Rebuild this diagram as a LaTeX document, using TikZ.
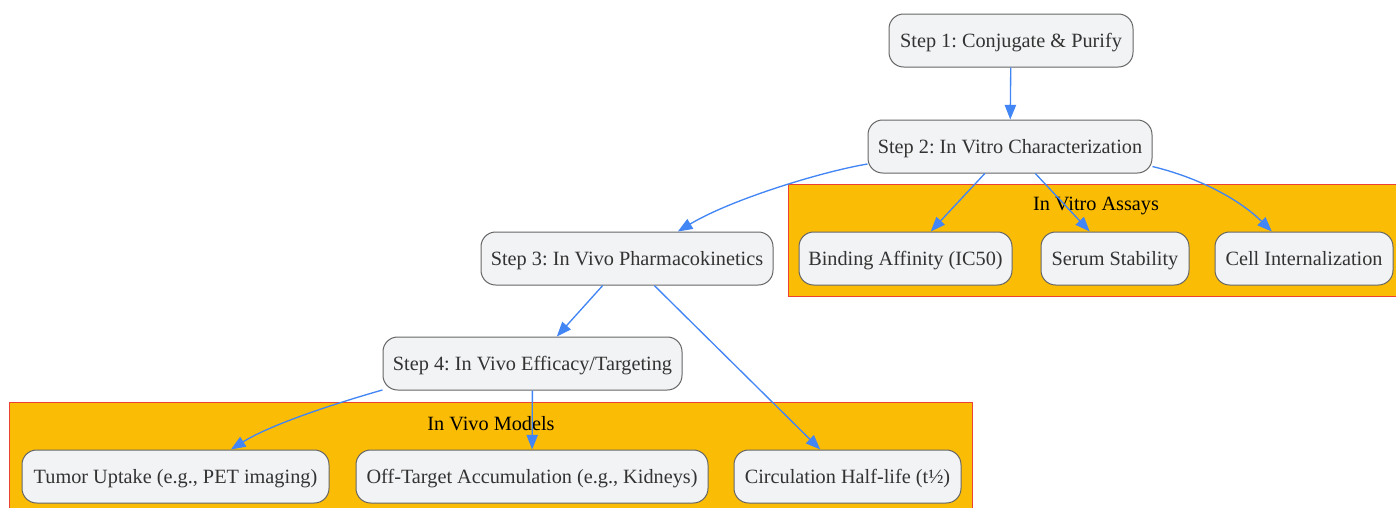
\documentclass[tikz,border=0pt]{standalone}
\usepackage{fontspec}
\setmainfont{Liberation Serif}
\usetikzlibrary{arrows.meta}
\frenchspacing

\definecolor{boxfill}{RGB}{242,243,245}
\definecolor{boxline}{RGB}{102,102,102}
\definecolor{boxtext}{RGB}{51,51,51}
\definecolor{flowblue}{RGB}{66,133,244}
\definecolor{groupfill}{RGB}{251,188,5}
\definecolor{groupred}{RGB}{234,67,53}

\begin{document}
\begin{tikzpicture}[x=0.75pt,y=-0.75pt,
	stepbox/.style={draw=boxline,fill=boxfill,text=boxtext,rounded corners=11pt,minimum height=39.75pt,inner sep=0pt,text height=12pt,text depth=1pt,line width=0.75pt,font=\fontsize{15.2}{18}\selectfont},
	grouplabel/.style={font=\fontsize{15.2}{18}\selectfont,text=black},
	group/.style={draw=groupred,fill=groupfill,line width=0.75pt},
	flow/.style={draw=flowblue,line width=1pt,-{Triangle[length=11pt,width=8.5pt]}}]

\useasboundingbox (0,0) rectangle (1396,507);

% groups
\draw[group] (788,184) rectangle (1402,296);
\node[grouplabel] (vitrolabel) at (1096,206) {In Vitro Assays};
\draw[group] (9,402) rectangle (972,512);
\node[grouplabel] (vivolabel) at (491,424) {In Vivo Models};

% steps and assays
\foreach \n/\x/\y/\w/\t in {step1/1011/40.5/244/{Step 1: Conjugate \& Purify},
	step2/1010/146.5/284/{Step 2: In Vitro Characterization},
	step3/627/258.5/292/{Step 3: In Vivo Pharmacokinetics},
	step4/532.5/363.5/299/{Step 4: In Vivo Efficacy/Targeting},
	bind/905.5/258.5/213/{Binding Affinity (IC50)},
	serum/1115/258.5/148/{Serum Stability},
	cell/1304/258.5/178/{Cell Internalization},
	tumor/175.5/476.5/307/{Tumor Uptake (e.g., PET imaging)},
	offtarget/532/476.5/352/{Off-Target Accumulation (e.g., Kidneys)},
	halflife/847.5/476.5/227/{Circulation Half-life (t½)}}
	\node[stepbox,minimum width=\w*0.75pt] (\n) at (\x,\y) {\t};

% connectors
\foreach \a/\b in {step1/step2,step2/bind,step2/serum,step3/step4,step3/halflife,step4/offtarget}
	\draw[flow](\a)--(\b);

\draw[flow] (step2.187) .. controls (820,172) and (730,200) .. (step3.28);
\draw[flow] (step2.352) .. controls (1200,178) and (1240,200) .. (cell.140);
\draw[flow] (step4.190) .. controls (330,405) and (270,425) .. (tumor.26);
\end{tikzpicture}
\end{document}
